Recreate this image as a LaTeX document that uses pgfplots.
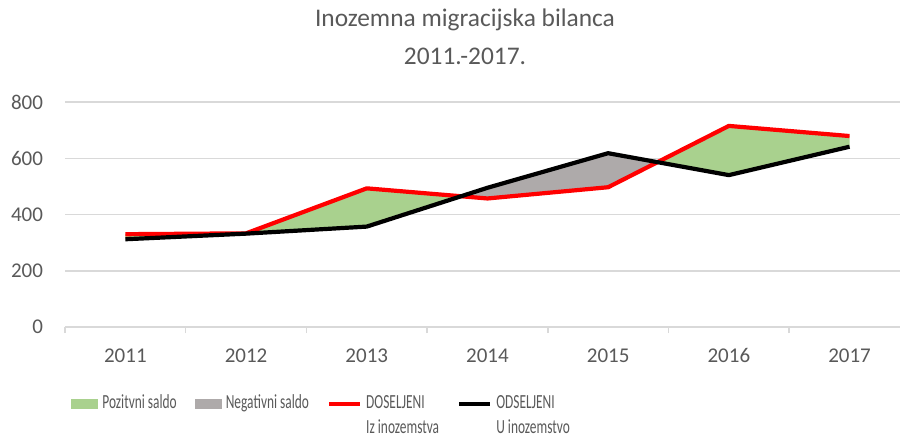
\documentclass[border=0pt]{standalone}
\usepackage{fontspec}
\setmainfont{Carlito}
\usepackage{graphicx}
\usepackage{pgfplots}
\pgfplotsset{compat=1.18}
\definecolor{txt}{HTML}{595959}
\definecolor{gridc}{HTML}{D9D9D9}
\definecolor{posg}{HTML}{A9D18E}
\definecolor{negg}{HTML}{AEAAAA}
\begin{document}
\begin{tikzpicture}
\path[use as bounding box] (-32.5pt,-56.5pt) rectangle (417.5pt,163.5pt);
\begin{axis}[
  at={(0,0)}, anchor=south west,
  width=417.5pt, height=112.5pt, scale only axis,
  xmin=-0.5, xmax=6.418, ymin=0, ymax=800,
  ytick={0,200,400,600,800},
  xtick={0,1,2,3,4,5,6},
  xticklabels={2011,2012,2013,2014,2015,2016,2017},
  extra x ticks={-0.5,0.5,1.5,2.5,3.5,4.5,5.5},
  extra x tick labels={},
  extra x tick style={major tick length=3pt, tick align=outside, tick style={gridc, line width=0.75pt}, grid=none},
  major tick length=0pt,
  ymajorgrids, grid style={gridc, line width=0.75pt},
  axis x line*=bottom, axis y line*=left,
  x axis line style={gridc, line width=0.75pt, -},
  y axis line style={draw=none},
  ytick style={draw=none},
  /pgf/number format/assume math mode=true,
  tick label style={font=\fontsize{10.5}{12}\selectfont, text=txt},
  yticklabel style={xshift=-7.5pt},
  xticklabel style={yshift=-6.5pt, text height=7.5pt, text depth=0pt},
  legend columns=4,
  legend style={at={(0,0)}, anchor=north west, xshift=0pt, yshift=-28pt,
    draw=none, fill=none, font=\fontsize{10}{12.5}\selectfont, text=txt,
    cells={anchor=mid west},
    /tikz/every even column/.append style={column sep=7pt}},
]
\addplot[fill=posg, draw=none, area legend,
  legend image code/.code={\fill[posg] (0pt,-2.5pt) rectangle (13.5pt,2.5pt);}]
  coordinates {(0,330) (1,333) (2,493) (2.782,464.9) (2,357) (1,332) (0,312)} -- cycle;
\addlegendentry{\scalebox{0.67}[1]{Pozitvni saldo}}
\addplot[fill=negg, draw=none, area legend,
  legend image code/.code={\fill[negg] (0pt,-2.5pt) rectangle (13.5pt,2.5pt);}]
  coordinates {(2.782,464.9) (3,495) (4,618) (4.409,586.1) (4,497) (3,457)} -- cycle;
\addlegendentry{\scalebox{0.67}[1]{Negativni saldo}}
\addplot[fill=posg, draw=none, forget plot]
  coordinates {(4.409,586.1) (5,715) (6,679) (6,641) (5,540)} -- cycle;
\addplot[red, line width=2.1pt, line join=round,
  legend image code/.code={\draw[red, line width=2.1pt] (0pt,0pt) -- (15.5pt,0pt);}]
  coordinates {(0,330) (1,333) (2,493) (3,457) (4,497) (5,715) (6,679)};
\addlegendentry{\scalebox{0.67}[1]{\begin{tabular}[t]{@{}l@{}}DOSELJENI\\Iz inozemstva\end{tabular}}}
\addplot[black, line width=2.1pt, line join=round,
  legend image code/.code={\draw[black, line width=2.1pt] (0pt,0pt) -- (15.5pt,0pt);}]
  coordinates {(0,312) (1,332) (2,357) (3,495) (4,618) (5,540) (6,641)};
\addlegendentry{\scalebox{0.67}[1]{\begin{tabular}[t]{@{}l@{}}ODSELJENI\\U inozemstvo\end{tabular}}}
\end{axis}
\node[text=txt, font=\fontsize{12.7}{15}\selectfont] at (200pt,153.5pt) {Inozemna migracijska bilanca};
\node[text=txt, font=\fontsize{12.7}{15}\selectfont] at (200pt,135.5pt) {2011.-2017.};
\end{tikzpicture}
\end{document}
